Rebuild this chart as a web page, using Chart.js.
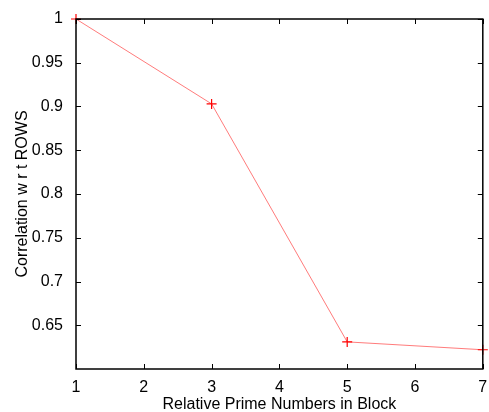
<!DOCTYPE html>
<html>
<head>
<meta charset="utf-8">
<script src="https://cdn.jsdelivr.net/npm/chart.js@4.4.0/dist/chart.umd.min.js"></script>
<style>
html, body { margin: 0; padding: 0; background: #fff; }
</style>
</head>
<body>
<canvas id="myChart" width="489" height="412"></canvas>
<script>
// data
var primeCounts = [1, 3, 5, 7];
var rowCorrelation = [1.0, 0.903, 0.631, 0.622];
var xTicks = [1, 2, 3, 4, 5, 6, 7];
var yTicks = [0.65, 0.7, 0.75, 0.8, 0.85, 0.9, 0.95, 1];

var fontFamily = "'Liberation Sans', Arial, sans-serif";

// matlab style box with inward ticks on all four sides
var boxTicks = {
  id: 'boxTicks',
  afterDraw: function(chart) {
    var c = chart.ctx, a = chart.chartArea;
    var xs = chart.scales.x, ys = chart.scales.y;
    var len = 5;
    c.save();
    c.strokeStyle = '#000';
    c.lineWidth = 1;
    c.beginPath();
    xTicks.forEach(function(v) {
      var px = Math.round(xs.getPixelForValue(v)) + 0.5;
      c.moveTo(px, a.bottom); c.lineTo(px, a.bottom - len);
      c.moveTo(px, a.top); c.lineTo(px, a.top + len);
    });
    yTicks.forEach(function(v) {
      var py = Math.round(ys.getPixelForValue(v)) + 0.5;
      c.moveTo(a.left, py); c.lineTo(a.left + len, py);
      c.moveTo(a.right, py); c.lineTo(a.right - len, py);
    });
    c.stroke();
    c.lineWidth = 1.5;
    c.strokeRect(a.left, a.top, a.right - a.left, a.bottom - a.top);
    c.restore();
  }
};

var ctx = document.getElementById('myChart').getContext('2d');
var lineChart = new Chart(ctx, {
  type: 'line',
  data: {
    datasets: [{
      label: 'Correlation',
      data: primeCounts.map(function(x, i) { return { x: x, y: rowCorrelation[i] }; }),
      borderColor: 'rgba(255, 100, 100, 0.85)',
      borderWidth: 1,
      pointStyle: 'cross',
      pointRadius: 5,
      pointBorderColor: '#ff0000',
      pointBorderWidth: 1.2,
      pointHoverRadius: 5,
      fill: false,
      tension: 0,
      clip: false
    }]
  },
  options: {
    responsive: false,
    animation: false,
    layout: { padding: { top: 19, right: 2, left: 0, bottom: 0 } },
    plugins: {
      legend: { display: false },
      tooltip: { enabled: false }
    },
    scales: {
      x: {
        type: 'linear',
        min: 1,
        max: 7,
        grid: { display: false },
        border: { display: false },
        afterBuildTicks: function(s) { s.ticks = xTicks.map(function(v) { return { value: v }; }); },
        afterFit: function(s) { s.height = 43; s.paddingLeft = 0; s.paddingRight = 0; },
        ticks: {
          color: '#000',
          padding: 3,
          maxRotation: 0,
          font: { family: fontFamily, size: 16, lineHeight: 1 }
        },
        title: {
          display: true,
          text: 'Relative Prime Numbers in Block',
          color: '#000',
          padding: { top: 0, bottom: -1 },
          font: { family: fontFamily, size: 16, lineHeight: 1 }
        }
      },
      y: {
        min: 0.6,
        max: 1,
        grid: { display: false },
        border: { display: false },
        afterBuildTicks: function(s) { s.ticks = yTicks.map(function(v) { return { value: v }; }); },
        afterFit: function(s) { s.width = 76; },
        ticks: {
          color: '#000',
          padding: 5,
          font: { family: fontFamily, size: 16 },
          callback: function(v) { return String(Number(v.toFixed(2))); }
        },
        title: {
          display: true,
          text: 'Correlation w r t ROWS',
          color: '#000',
          padding: { top: 13, bottom: 0 },
          font: { family: fontFamily, size: 16 }
        }
      }
    }
  },
  plugins: [boxTicks]
});
</script>
</body>
</html>
